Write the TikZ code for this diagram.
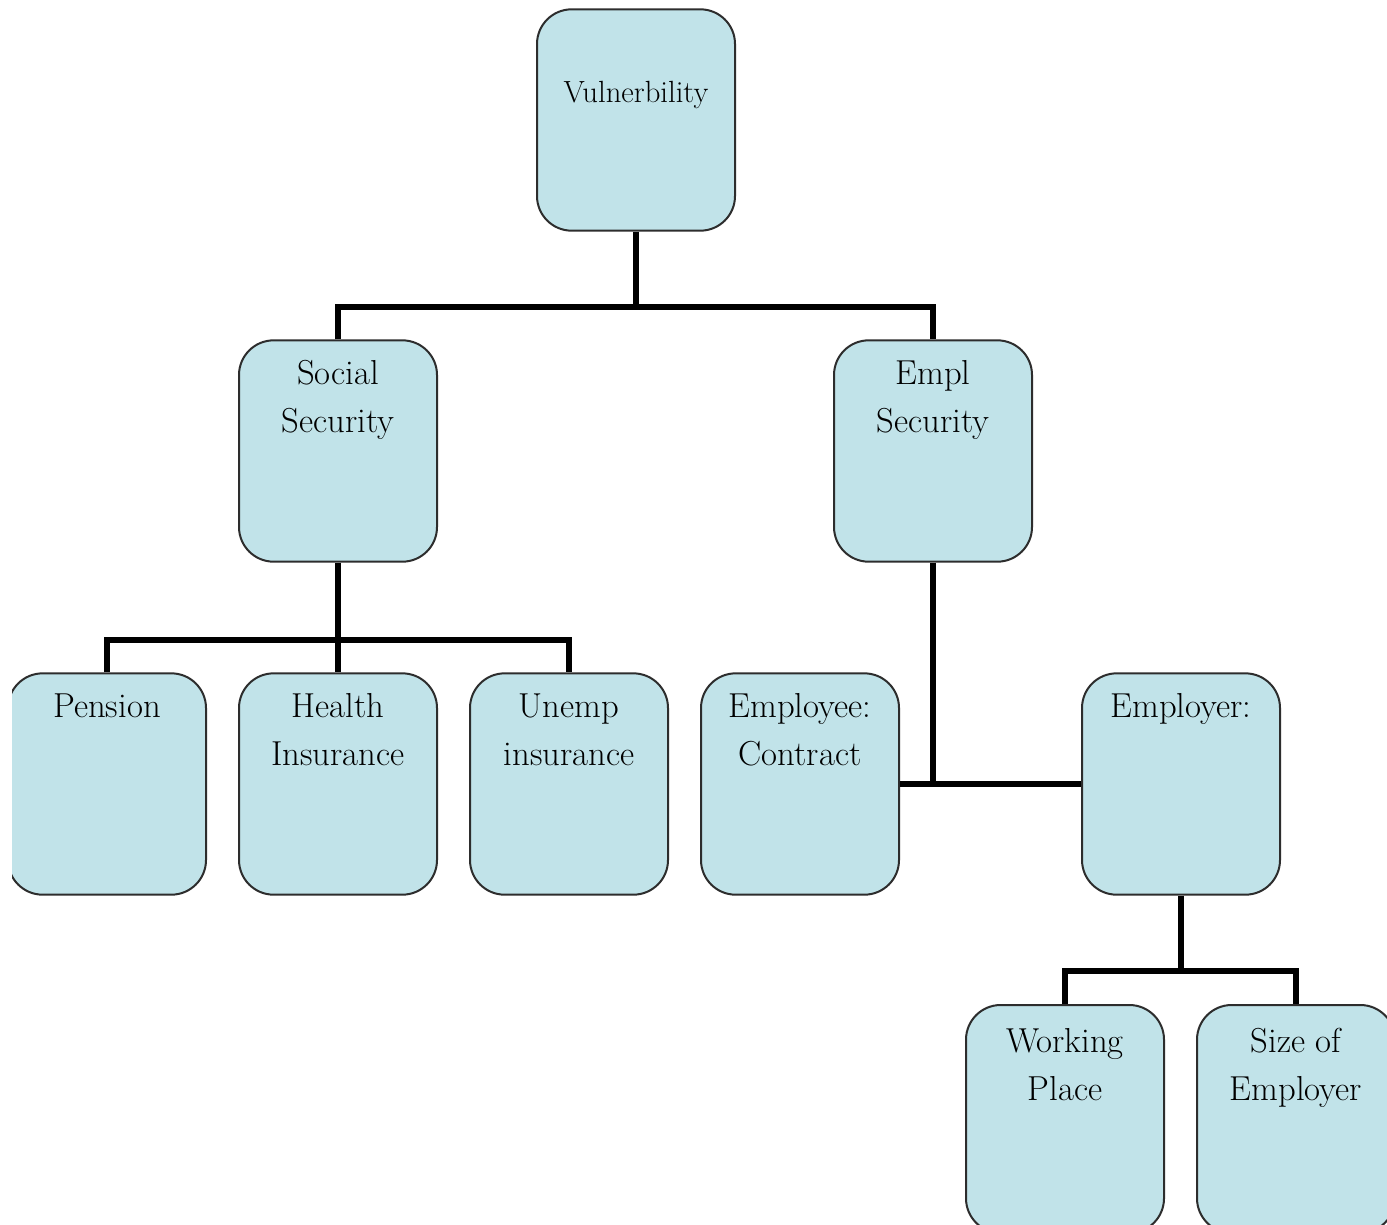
\documentclass[tikz,border=0pt]{standalone}
\definecolor{boxblue}{RGB}{193,227,233}
\definecolor{boxline}{RGB}{45,45,45}
\newcommand{\bxt}[2][8pt]{\parbox[t][166pt][t]{148pt}{\centering\fontsize{26}{36}\selectfont\vspace*{#1}\strut #2}}
\newcommand{\bxs}[2][49pt]{\parbox[t][166pt][t]{148pt}{\centering\fontsize{23}{30}\selectfont\vspace*{#1}\strut #2}}
\tikzset{
  box/.style={rectangle, rounded corners=26pt, draw=boxline, line width=1.5pt, fill=boxblue, inner sep=0pt, minimum width=148.5pt, minimum height=166pt},
  conn/.style={draw=black, line width=4.5pt}
}
\begin{document}
\begin{tikzpicture}[x=0.75pt,y=-0.75pt]
\useasboundingbox (0,0) rectangle (1387,1224);
\fill[white] (0,0) rectangle (1387,1224);
\clip (12,0) rectangle (1387,1224);
% nodes
\node[box] (v)  at (636,120)  {\bxs{Vulnerbility}};
\node[box] (ss) at (338,451)  {\bxt{Social\\Security}};
\node[box] (es) at (933,451)  {\bxt{Empl\\Security}};
\node[box] (p)  at (107,784)  {\bxt{Pension}};
\node[box] (hi) at (338,784)  {\bxt{Health\\Insurance}};
\node[box] (ui) at (569,784)  {\bxt{Unemp\\insurance}};
\node[box] (ec) at (800,784)  {\bxt{Employee:\\Contract}};
\node[box] (er) at (1181,784) {\bxt{Employer:}};
\node[box, minimum height=171pt] (wp) at (1065,1119) {\bxt{Working\\Place}};
\node[box, minimum height=171pt] (se) at (1296,1119) {\bxt{Size of\\Employer}};
% junctions
\coordinate (j1) at (636,307);
\coordinate (j2) at (338,640);
\coordinate (j3) at (933,784);
\coordinate (j4) at (1181,971);
% connectors
\draw[conn] (v.south) -- (j1);
\draw[conn] (ss.north) |- (j1) -| (es.north);
\draw[conn] (ss.south) -- (j2);
\draw[conn] (p.north) |- (j2) -| (ui.north);
\draw[conn] (j2) -- (hi.north);
\draw[conn] (es.south) -- (j3);
\draw[conn] (ec.east) -- (er.west);
\draw[conn] (er.south) -- (j4);
\draw[conn] (wp.north) |- (j4) -| (se.north);
\end{tikzpicture}
\end{document}
